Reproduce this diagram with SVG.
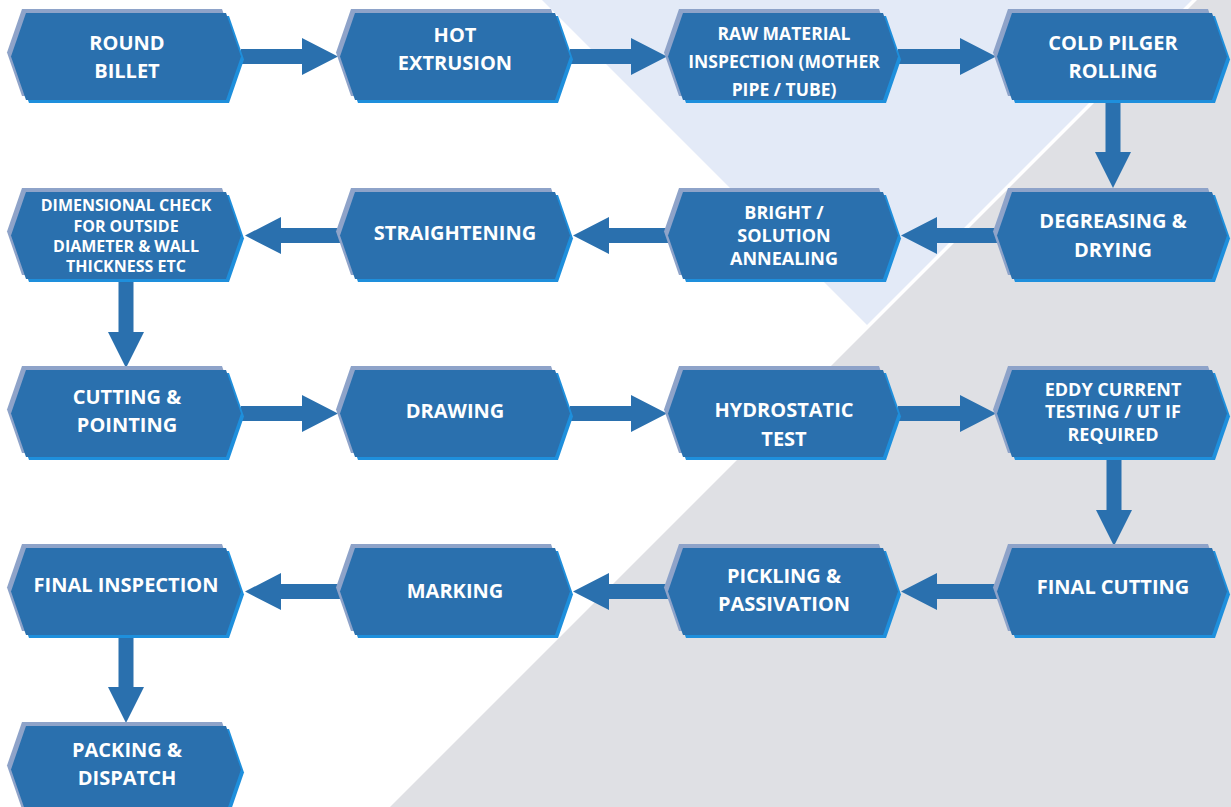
<svg xmlns="http://www.w3.org/2000/svg" xmlns:xlink="http://www.w3.org/1999/xlink" width="1231" height="807" viewBox="0 0 1231 807">
<style>
.back{fill:#8ea3c9}
.edge{fill:#1e8fdc}
.main{fill:#2a70ae}
.arr{fill:#2a70ae}
text{font-family:"Open Sans","Liberation Sans",sans-serif;font-weight:700;fill:#ffffff;text-anchor:middle;font-size:20px}
.s18{font-size:18px}
.s17{font-size:17.5px}
.s16{font-size:16px}
</style>
<defs>
<path id="hex" d="M0,43.5 L15,0 L215,0 L230,43.5 L215,87 L15,87 Z"/>
</defs>
<rect width="1231" height="807" fill="#ffffff"/>
<g id="background">
<polygon points="542,0 1192,0 867,325" fill="#e3eaf7"/>
<polygon points="1197,0 1231,0 1231,807 390,807" fill="#dfe0e4"/>
</g>
<g id="connectors" class="arr">
<polygon points="241,49 302,49 302,38 338,56.5 302,75 302,64 241,64"/>
<polygon points="570,49 631,49 631,38 667,56.5 631,75 631,64 570,64"/>
<polygon points="898,49 960,49 960,38 996,56.5 960,75 960,64 898,64"/>
<polygon points="1105.5,100 1120.5,100 1120.5,152 1131,152 1113,188 1095,152 1105.5,152"/>
<polygon points="997,228 937,228 937,217 901,235.5 937,254 937,243 997,243"/>
<polygon points="668,228 609,228 609,217 573,235.5 609,254 609,243 668,243"/>
<polygon points="340,228 281,228 281,217 245,235.5 281,254 281,243 340,243"/>
<polygon points="118.5,279 133.5,279 133.5,332 144,332 126,368 108,332 118.5,332"/>
<polygon points="241,406 302,406 302,395 338,413.5 302,432 302,421 241,421"/>
<polygon points="570,406 631,406 631,395 667,413.5 631,432 631,421 570,421"/>
<polygon points="898,406 960,406 960,395 996,413.5 960,432 960,421 898,421"/>
<polygon points="1106.5,457 1121.5,457 1121.5,510 1132,510 1114,546 1096,510 1106.5,510"/>
<polygon points="997,584 937,584 937,573 901,591.5 937,610 937,599 997,599"/>
<polygon points="668,584 609,584 609,573 573,591.5 609,610 609,599 668,599"/>
<polygon points="340,584 281,584 281,573 245,591.5 281,610 281,599 340,599"/>
<polygon points="118.5,635 133.5,635 133.5,687 144,687 126,723 108,687 118.5,687"/>
</g>
<g id="n1" transform="translate(11,13)"><use xlink:href="#hex" x="-4" y="-4" class="back"/><use xlink:href="#hex" x="3" y="3" class="edge"/><use xlink:href="#hex" class="main"/>
<text x="116" y="37">ROUND</text><text x="116" y="65">BILLET</text></g>
<g id="n2" transform="translate(340,13)"><use xlink:href="#hex" x="-4" y="-4" class="back"/><use xlink:href="#hex" x="3" y="3" class="edge"/><use xlink:href="#hex" class="main"/>
<text x="115" y="29">HOT</text><text x="115" y="57">EXTRUSION</text></g>
<g id="n3" transform="translate(668,13)"><use xlink:href="#hex" x="-4" y="-4" class="back"/><use xlink:href="#hex" x="3" y="3" class="edge"/><use xlink:href="#hex" class="main"/>
<text class="s17" x="116" y="27">RAW MATERIAL</text><text class="s17" x="116" y="55">INSPECTION (MOTHER</text><text class="s17" x="116" y="83">PIPE / TUBE)</text></g>
<g id="n4" transform="translate(997,13)"><use xlink:href="#hex" x="-4" y="-4" class="back"/><use xlink:href="#hex" x="3" y="3" class="edge"/><use xlink:href="#hex" class="main"/>
<text x="116" y="37">COLD PILGER</text><text x="116" y="65">ROLLING</text></g>
<g id="n5" transform="translate(997,192)"><use xlink:href="#hex" x="-4" y="-4" class="back"/><use xlink:href="#hex" x="3" y="3" class="edge"/><use xlink:href="#hex" class="main"/>
<text x="116" y="36">DEGREASING &amp;</text><text x="116" y="65">DRYING</text></g>
<g id="n6" transform="translate(668,192)"><use xlink:href="#hex" x="-4" y="-4" class="back"/><use xlink:href="#hex" x="3" y="3" class="edge"/><use xlink:href="#hex" class="main"/>
<text class="s18" x="116" y="26.5">BRIGHT /</text><text class="s18" x="116" y="49.5">SOLUTION</text><text class="s18" x="116" y="72.5">ANNEALING</text></g>
<g id="n7" transform="translate(340,192)"><use xlink:href="#hex" x="-4" y="-4" class="back"/><use xlink:href="#hex" x="3" y="3" class="edge"/><use xlink:href="#hex" class="main"/>
<text x="115" y="48">STRAIGHTENING</text></g>
<g id="n8" transform="translate(11,192)"><use xlink:href="#hex" x="-4" y="-4" class="back"/><use xlink:href="#hex" x="3" y="3" class="edge"/><use xlink:href="#hex" class="main"/>
<text class="s16" x="115" y="19">DIMENSIONAL CHECK</text><text class="s16" x="115" y="39.5">FOR OUTSIDE</text><text class="s16" x="115" y="60">DIAMETER &amp; WALL</text><text class="s16" x="115" y="80">THICKNESS ETC</text></g>
<g id="n9" transform="translate(11,370)"><use xlink:href="#hex" x="-4" y="-4" class="back"/><use xlink:href="#hex" x="3" y="3" class="edge"/><use xlink:href="#hex" class="main"/>
<text x="116" y="34">CUTTING &amp;</text><text x="116" y="62">POINTING</text></g>
<g id="n10" transform="translate(340,370)"><use xlink:href="#hex" x="-4" y="-4" class="back"/><use xlink:href="#hex" x="3" y="3" class="edge"/><use xlink:href="#hex" class="main"/>
<text x="115" y="48">DRAWING</text></g>
<g id="n11" transform="translate(668,370)"><use xlink:href="#hex" x="-4" y="-4" class="back"/><use xlink:href="#hex" x="3" y="3" class="edge"/><use xlink:href="#hex" class="main"/>
<text x="116" y="47">HYDROSTATIC</text><text x="116" y="76">TEST</text></g>
<g id="n12" transform="translate(997,370)"><use xlink:href="#hex" x="-4" y="-4" class="back"/><use xlink:href="#hex" x="3" y="3" class="edge"/><use xlink:href="#hex" class="main"/>
<text class="s18" x="116" y="25.5">EDDY CURRENT</text><text class="s18" x="116" y="48">TESTING / UT IF</text><text class="s18" x="116" y="71">REQUIRED</text></g>
<g id="n13" transform="translate(997,548)"><use xlink:href="#hex" x="-4" y="-4" class="back"/><use xlink:href="#hex" x="3" y="3" class="edge"/><use xlink:href="#hex" class="main"/>
<text x="116" y="46">FINAL CUTTING</text></g>
<g id="n14" transform="translate(668,548)"><use xlink:href="#hex" x="-4" y="-4" class="back"/><use xlink:href="#hex" x="3" y="3" class="edge"/><use xlink:href="#hex" class="main"/>
<text x="116" y="35">PICKLING &amp;</text><text x="116" y="63">PASSIVATION</text></g>
<g id="n15" transform="translate(340,548)"><use xlink:href="#hex" x="-4" y="-4" class="back"/><use xlink:href="#hex" x="3" y="3" class="edge"/><use xlink:href="#hex" class="main"/>
<text x="115" y="50">MARKING</text></g>
<g id="n16" transform="translate(11,548)"><use xlink:href="#hex" x="-4" y="-4" class="back"/><use xlink:href="#hex" x="3" y="3" class="edge"/><use xlink:href="#hex" class="main"/>
<text x="115" y="44">FINAL INSPECTION</text></g>
<g id="n17" transform="translate(11,726)"><use xlink:href="#hex" x="-4" y="-4" class="back"/><use xlink:href="#hex" x="3" y="3" class="edge"/><use xlink:href="#hex" class="main"/>
<text x="116" y="31">PACKING &amp;</text><text x="116" y="59">DISPATCH</text></g>
</svg>
